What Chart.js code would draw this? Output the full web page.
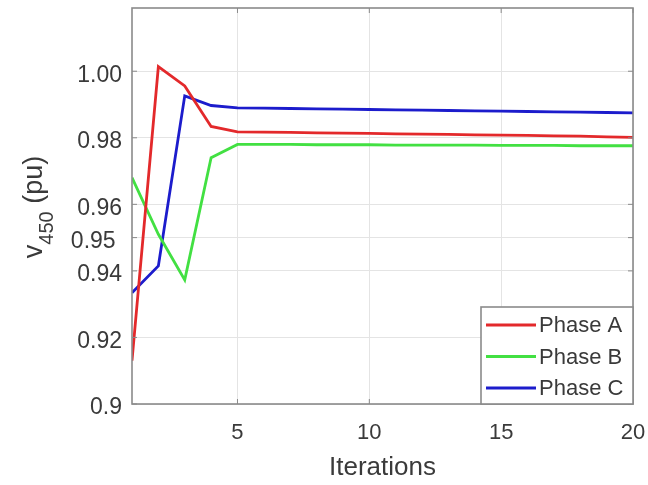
<!DOCTYPE html>
<html>
<head>
<meta charset="utf-8">
<script src="https://cdn.jsdelivr.net/npm/chart.js@4"></script>
<style>
html,body{margin:0;padding:0;background:#fff;}
#wrap{width:648px;height:485px;position:relative;}
</style>
</head>
<body>
<div id="wrap"><canvas id="c" width="648" height="485"></canvas></div>
<script>
const iterations = [1,2,3,4,5,6,7,8,9,10,11,12,13,14,15,16,17,18,19,20];
const phaseA = [0.9130,1.0014,0.9956,0.9834,0.9818,0.9817,0.9816,0.9815,0.9814,0.9813,0.9812,0.9811,0.9810,0.9809,0.9808,0.9807,0.9806,0.9805,0.9803,0.9801];
const phaseB = [0.9680,0.9510,0.9373,0.9740,0.9780,0.9780,0.9780,0.9779,0.9779,0.9779,0.9778,0.9778,0.9778,0.9778,0.9777,0.9777,0.9777,0.9776,0.9776,0.9776];
const phaseC = [0.9334,0.9415,0.9926,0.9897,0.9890,0.9889,0.9888,0.9887,0.9886,0.9885,0.9884,0.9883,0.9882,0.9881,0.9880,0.9879,0.9878,0.9877,0.9876,0.9875];
const seriesLabels = ['Phase A','Phase B','Phase C'];
const seriesColors = ['#e3292b','#42e042','#1c1ccc'];
const xTickValues = [5,10,15,20];
const yTickValues = [0.9,0.92,0.94,0.95,0.96,0.98,1.00];
const yTickLabels = ['0.9','0.92','0.94','0.95 ','0.96','0.98','1.00'];
const xRange = [1, 20];
const yRange = [0.9, 1.019];

const FONT = "'Liberation Sans', Arial, sans-serif";
const axisColor = '#8a8a8a';
const textColor = '#3a3a3a';

const boxPlugin = {
  id: 'boxPlugin',
  afterDraw(chart) {
    const ctx = chart.ctx;
    const a = chart.chartArea;
    const xs = chart.scales.x, ys = chart.scales.y;
    ctx.save();
    // box
    ctx.strokeStyle = axisColor;
    ctx.lineWidth = 1.6;
    ctx.strokeRect(a.left, a.top, a.right - a.left, a.bottom - a.top);
    // inward ticks
    ctx.lineWidth = 1;
    xTickValues.forEach(v => {
      const x = xs.getPixelForValue(v);
      ctx.beginPath(); ctx.moveTo(x, a.bottom); ctx.lineTo(x, a.bottom - 5); ctx.stroke();
      ctx.beginPath(); ctx.moveTo(x, a.top); ctx.lineTo(x, a.top + 5); ctx.stroke();
    });
    yTickValues.forEach(v => {
      const y = ys.getPixelForValue(v);
      ctx.beginPath(); ctx.moveTo(a.left, y); ctx.lineTo(a.left + 5, y); ctx.stroke();
      ctx.beginPath(); ctx.moveTo(a.right, y); ctx.lineTo(a.right - 5, y); ctx.stroke();
    });
    // legend
    const lx = 481, ly = 307, lw = a.right - 481, lh = a.bottom - 307;
    ctx.fillStyle = '#fff';
    ctx.fillRect(lx, ly, lw, lh);
    ctx.strokeStyle = '#8a8a8a';
    ctx.lineWidth = 1.6;
    ctx.strokeRect(lx, ly, lw, lh);
    ctx.font = '22px ' + FONT;
    ctx.textBaseline = 'middle';
    ctx.textAlign = 'left';
    chart.data.datasets.forEach((ds, i) => {
      const yy = ly + 18 + i * 31.5;
      ctx.strokeStyle = ds.borderColor;
      ctx.lineWidth = 3;
      ctx.beginPath(); ctx.moveTo(lx + 5, yy); ctx.lineTo(lx + 55, yy); ctx.stroke();
      ctx.fillStyle = textColor;
      ctx.fillText(ds.label, lx + 58, yy + 1);
    });
    // y title with subscript
    ctx.translate(42, 207);
    ctx.rotate(-Math.PI / 2);
    ctx.fillStyle = textColor;
    ctx.textBaseline = 'alphabetic';
    const f1 = '27px ' + FONT, f2 = '20px ' + FONT;
    ctx.font = f1; const wv = ctx.measureText('v').width;
    ctx.font = f2; const ws = ctx.measureText('450').width;
    ctx.font = f1; const wp = ctx.measureText(' (pu)').width;
    let x0 = -(wv + ws + wp) / 2;
    ctx.font = f1; ctx.fillText('v', x0, 0); x0 += wv;
    ctx.font = f2; ctx.fillText('450', x0, 11); x0 += ws;
    ctx.font = f1; ctx.fillText(' (pu)', x0, 0);
    ctx.restore();
  }
};

const datasets = [phaseA, phaseB, phaseC].map((arr, i) => ({
  label: seriesLabels[i],
  data: iterations.map((x, j) => ({x: x, y: arr[j]})),
  borderColor: seriesColors[i],
  backgroundColor: seriesColors[i],
  borderWidth: 2.8,
  pointRadius: 0,
  tension: 0,
  fill: false
}));

function zeroPad(s) { s.paddingTop = 0; s.paddingBottom = 0; s.paddingLeft = 0; s.paddingRight = 0; }

new Chart(document.getElementById('c'), {
  type: 'line',
  data: { datasets },
  options: {
    responsive: false,
    animation: false,
    layout: { padding: { top: 8, right: 15, left: 0, bottom: 0 } },
    plugins: { legend: { display: false }, tooltip: { enabled: false } },
    scales: {
      x: {
        type: 'linear', min: xRange[0], max: xRange[1],
        afterBuildTicks(s) { s.ticks = xTickValues.map(v => ({value: v})); },
        afterFit(s) { s.height = 81; zeroPad(s); },
        grid: { color: '#e4e4e4', lineWidth: 1, drawTicks: false },
        border: { display: false },
        ticks: { color: textColor, font: { family: FONT, size: 22 }, padding: 16, maxRotation: 0, autoSkip: false,
                 callback: v => String(v) },
        title: { display: true, text: 'Iterations', color: textColor, font: { family: FONT, size: 26 }, padding: { top: 0, bottom: 2 } }
      },
      y: {
        type: 'linear', min: yRange[0], max: yRange[1],
        afterBuildTicks(s) { s.ticks = yTickValues.map(v => ({value: v})); },
        afterFit(s) { s.width = 132; zeroPad(s); },
        grid: { color: '#e4e4e4', lineWidth: 1, drawTicks: false },
        border: { display: false },
        ticks: { color: textColor, font: { family: FONT, size: 23 }, padding: 10, labelOffset: 4, autoSkip: false,
                 callback: (v) => { const k = yTickValues.findIndex(t => Math.abs(t - v) < 1e-9); return k >= 0 ? yTickLabels[k] : ''; } }
      }
    }
  },
  plugins: [boxPlugin]
});
</script>
</body>
</html>
